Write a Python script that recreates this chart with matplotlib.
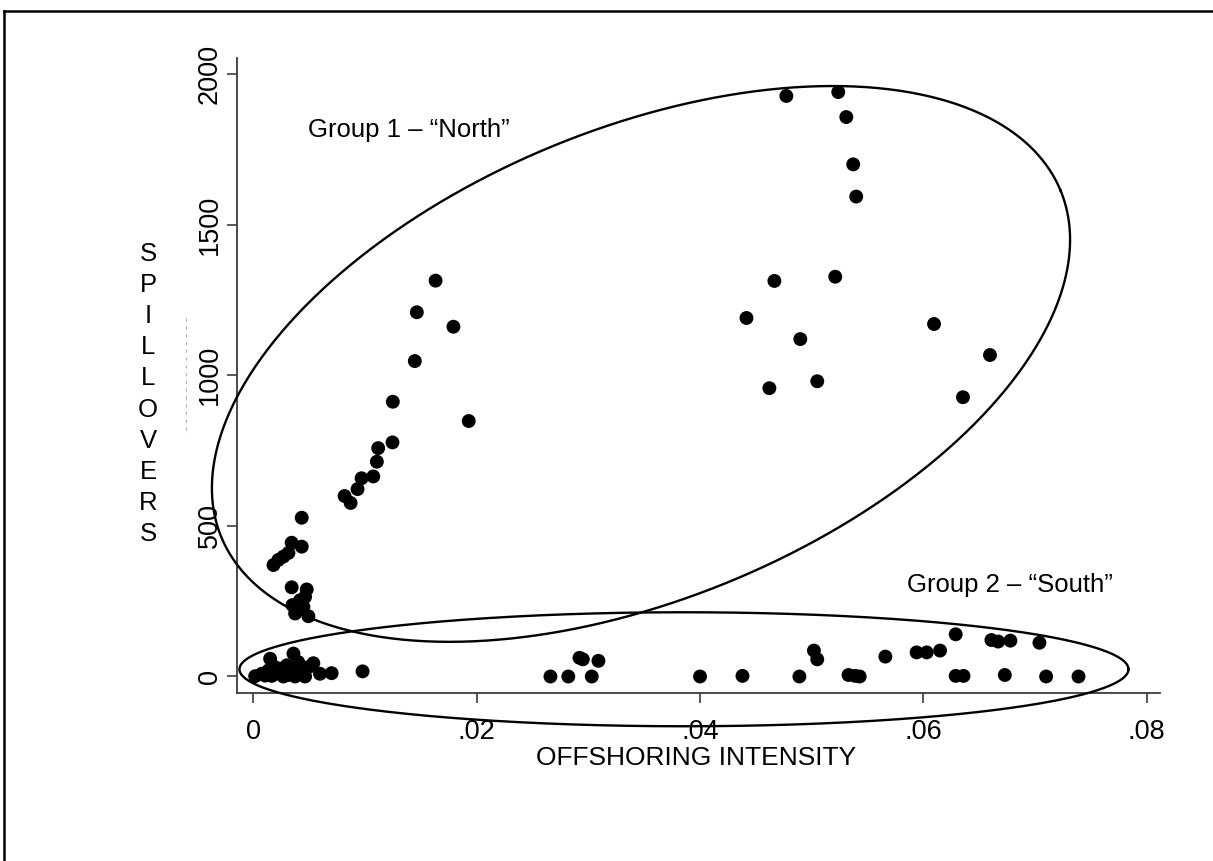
import numpy as np
import matplotlib
matplotlib.use("Agg")
import matplotlib.pyplot as plt
from matplotlib.lines import Line2D

plt.rcParams['font.family'] = ['Liberation Sans', 'DejaVu Sans']

# ---- data ----
north_x = [0.04773, 0.05238, 0.05310, 0.05372, 0.05399, 0.04666, 0.05211, 0.04416,
           0.04898, 0.04621, 0.05050, 0.06096, 0.06597, 0.06355,
           0.01631, 0.01463, 0.01791, 0.01445, 0.01248, 0.01928, 0.01245, 0.01117,
           0.01105, 0.01073, 0.00968, 0.00932, 0.00816, 0.00870, 0.00432, 0.00342, 0.00432,
           0.00179, 0.00223, 0.00268, 0.00313,
           0.00342, 0.00477, 0.00349, 0.00447, 0.00373, 0.00492, 0.00417, 0.00462]
north_y = [1927, 1940, 1857, 1700, 1593, 1313, 1327, 1190,
           1120, 957, 980, 1170, 1067, 927,
           1314, 1209, 1161, 1047, 912, 848, 777, 758,
           713, 664, 658, 622, 599, 576, 527, 444, 431,
           370, 387, 398, 410,
           296, 289, 237, 231, 209, 200, 253, 264]

south_x = [0.00149, 0.00358, 0.00536, 0.00402, 0.00015, 0.00074, 0.00134, 0.00194,
           0.00253, 0.00298, 0.00373, 0.00447, 0.00492, 0.00164, 0.00268, 0.00373,
           0.00462, 0.00596, 0.00700, 0.00977, 0.00224, 0.00328, 0.00418, 0.00105,
           0.00310, 0.00400,
           0.0266, 0.0282, 0.0292, 0.0295, 0.0303, 0.0309, 0.0400, 0.0438, 0.0489,
           0.0502, 0.0505, 0.0533, 0.0539, 0.0543, 0.0566, 0.0594, 0.0603, 0.0615,
           0.0629, 0.0629, 0.0636, 0.0661, 0.0667, 0.0678, 0.0673, 0.0704, 0.0710, 0.0739]
south_y = [59, 76, 44, 43, 1, 9, 20, 31,
           26, 37, 14, 9, 31, 2, 0, 0,
           0, 9, 11, 17, 10, 22, 25, 3,
           5, 48,
           0, 0, 62, 57, 0, 52, 0, 2, 0,
           86, 57, 5, 2, 0, 66, 80, 80, 86,
           140, 2, 2, 121, 116, 119, 5, 112, 0, 0]

x_ticks = [0, 0.02, 0.04, 0.06, 0.08]
x_tick_labels = ['0', '.02', '.04', '.06', '.08']
y_ticks = [0, 500, 1000, 1500, 2000]
y_tick_labels = ['0', '500', '1000', '1500', '2000']

group1_label = 'Group 1 \u2013 \u201cNorth\u201d'
group2_label = 'Group 2 \u2013 \u201cSouth\u201d'
x_title = 'OFFSHORING INTENSITY'
y_title = 'SPILLOVERS'

# ---- figure ----
W, H = 1213, 861
fig = plt.figure(figsize=(W / 100, H / 100), dpi=100)
fig.patch.set_facecolor('white')

ax = fig.add_axes([237.3 / W, 1 - 693.3 / H, (1160 - 237.3) / W, (693.3 - 58) / H])
ax.set_xlim(-0.00145, 0.0812)
ax.set_ylim(-55.8, 2053)

spine_col = '#3c3c3c'
for s in ['top', 'right']:
    ax.spines[s].set_visible(False)
for s in ['left', 'bottom']:
    ax.spines[s].set_color(spine_col)
    ax.spines[s].set_linewidth(1.3)

ax.set_xticks(x_ticks)
ax.set_xticklabels(x_tick_labels)
ax.set_yticks(y_ticks)
ax.set_yticklabels(y_tick_labels, rotation=90, va='center')
ax.tick_params(axis='both', length=7.5, width=1.2, color=spine_col, labelsize=19.5)
ax.tick_params(axis='x', pad=11)
ax.tick_params(axis='y', pad=3)

ax.scatter(north_x, north_y, s=100, color='black', edgecolors='none', zorder=3)
ax.scatter(south_x, south_y, s=100, color='black', edgecolors='none', zorder=3)


def ellipse(cx, cy, a_px, b_px, ang_deg):
    t = np.linspace(0, 2 * np.pi, 600)
    th = np.deg2rad(ang_deg)
    dx = a_px * np.cos(th) * np.cos(t) - b_px * np.sin(th) * np.sin(t)
    dy = a_px * np.sin(th) * np.cos(t) + b_px * np.cos(th) * np.sin(t)
    c = ax.transData.transform((cx, cy))
    pts = np.column_stack([c[0] + dx, c[1] + dy])
    d = ax.transData.inverted().transform(pts)
    ax.plot(d[:, 0], d[:, 1], color='black', lw=1.7, clip_on=False, zorder=4)


ellipse(0.03471, 1037.5, 454, 235, 22.45)
ellipse(0.03856, 24, 444.5, 57, 0)

ax.text(0.00488, 1814, group1_label, fontsize=18.5, ha='left', va='center')
ax.text(0.0585, 304, group2_label, fontsize=18.5, ha='left', va='center')

fig.text(696 / W, 1 - 758 / H, x_title, fontsize=19, ha='center', va='center')
fig.text(148 / W, 1 - 394 / H, '\n'.join(list(y_title)), fontsize=18.5,
         ha='center', va='center', linespacing=1.37, multialignment='center')

# faint dashed artifact line
fig.add_artist(Line2D([186 / W, 186 / W], [1 - 318 / H, 1 - 435 / H],
                      color='#b0b0b0', lw=0.8, linestyle=(0, (3, 4))))

# outer frame (top and left visible)
fig.add_artist(Line2D([4 / W, 1.0], [1 - 11 / H, 1 - 11 / H], color='black', lw=1.8))
fig.add_artist(Line2D([4 / W, 4 / W], [1 - 11 / H, 0], color='black', lw=1.8))

fig.savefig('out.png', dpi=100)
